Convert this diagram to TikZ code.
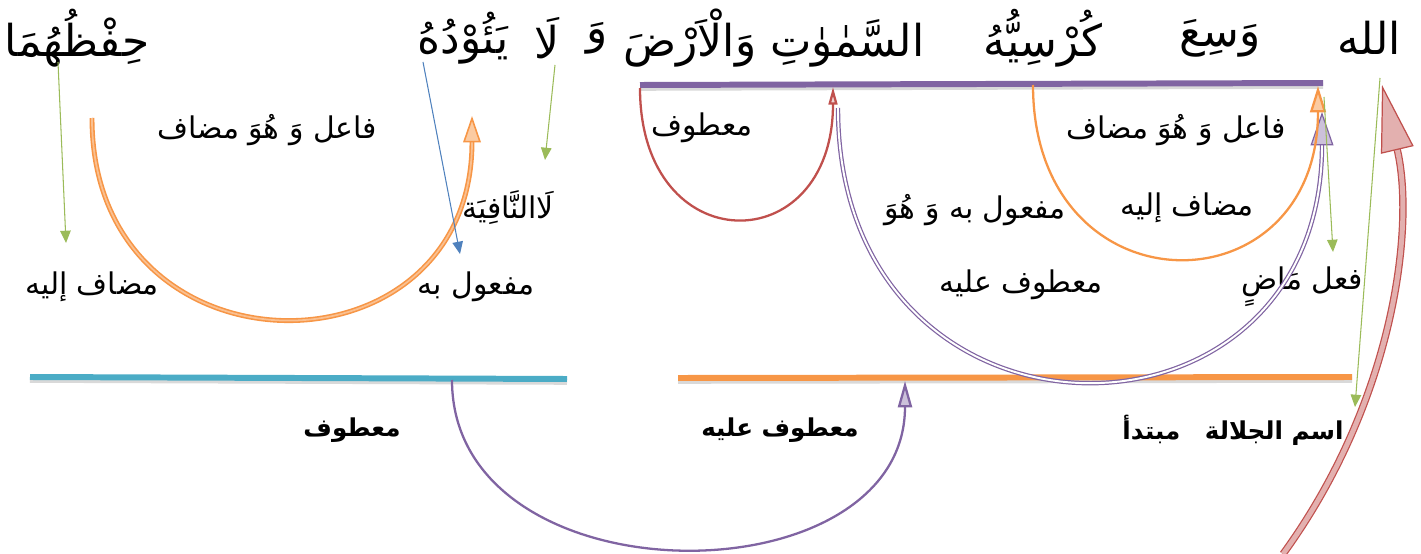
\documentclass[tikz,border=0pt]{standalone}
\usepackage{fontspec}
\newfontfamily\arabicfont[Script=Arabic]{DejaVu Sans}
\TeXXeTstate=1
\usepackage{xcolor}
\usetikzlibrary{arrows.meta}
\definecolor{barpurple}{HTML}{8064A2}
\definecolor{arcred}{HTML}{C0504D}
\definecolor{arcorange}{HTML}{F79646}
\definecolor{barteal}{HTML}{4BACC6}
\definecolor{pointgreen}{HTML}{9BBB59}
\definecolor{pointblue}{HTML}{4F81BD}

\begin{document}
\begin{tikzpicture}[
    x=0.02cm, y=-0.02cm,
    word/.style={font=\arabicfont\fontsize{25}{30}\selectfont, inner sep=0pt},
    role/.style={font=\arabicfont\fontsize{17}{20}\selectfont, inner sep=0pt},
    tag/.style={font=\arabicfont\bfseries\fontsize{14}{17}\selectfont, inner sep=0pt},
    bar/.style={line width=3.4pt, preaction={draw=black!15, line width=3.4pt, transform canvas={yshift=-1.6pt}}},
    pointer/.style={line width=0.6pt, -{Triangle[length=7pt,width=6pt]}},
    arcline/.style={line width=1.3pt}
]
\useasboundingbox (0,0) rectangle (1421,554);

% the verse
\node[word] (w-allah) at (1369,38) {\beginR الله\endR};
\node[word] (w-wasia) at (1220,38) {\beginR وَسِعَ\endR};
\node[word] (w-kursi) at (1043,38) {\beginR كُرْسِيُّهُ\endR};
\node[word] (w-samawat) at (774,38) {\beginR السَّمٰوٰتِ وَالْاَرْضَ\endR};
\node[word] (w-wa) at (597,38) {\beginR وَ\endR};
\node[word] (w-la) at (547,38) {\beginR لَا\endR};
\node[word] (w-yauduh) at (463,38) {\beginR يَئُوْدُهُ\endR};
\node[word] (w-hifz) at (77,38) {\beginR حِفْظُهُمَا\endR};

% roles
\node[role] (r-fail-l) at (267,130) {\beginR فاعل وَ هُوَ مضاف\endR};
\node[role] (r-fail-r) at (1176,130) {\beginR فاعل وَ هُوَ مضاف\endR};
\node[role] (r-maatuf-t) at (702,128) {\beginR معطوف\endR};
\node[role] (r-nafiya) at (508,208) {\beginR لَاالنَّافِيَة\endR};
\node[role] (r-mudaf-l) at (92,287) {\beginR مضاف إليه\endR};
\node[role] (r-maful) at (476,287) {\beginR مفعول به\endR};
\node[role] (r-mudaf-r) at (1187,208) {\beginR مضاف إليه\endR};
\node[role] (r-maful-h) at (975,210) {\beginR مفعول به وَ هُوَ\endR};
\node[role] (r-alayh-t) at (1021,285) {\beginR معطوف عليه\endR};
\node[role] (r-fil) at (1302,287) {\beginR فعل مَاضٍ\endR};
\node[tag] (t-maatuf) at (352,430) {\beginR معطوف\endR};
\node[tag] (t-alayh) at (780,430) {\beginR معطوف عليه\endR};
\node[tag] (t-mubtada) at (1233,430) {\beginR اسم الجلالة\quad مبتدأ\endR};

% bars
\coordinate (top-l) at (640,85);
\coordinate (top-r) at (1323,83);
\coordinate (low-r-l) at (678,378);
\coordinate (low-r-r) at (1352,377);
\coordinate (low-l-l) at (30,377);
\coordinate (low-l-r) at (567,379);
\draw[bar, barpurple] (top-l) -- (top-r);
\draw[bar, arcorange] (low-r-l) -- (low-r-r);
\draw[bar, barteal] (low-l-l) -- (low-l-r);

% arcs
\coordinate (red-a) at (640,88);
\coordinate (red-b) at (833,87);
\draw[arcline, arcred, -{Triangle[length=10pt,width=5pt,fill=arcred!25]}]
    (red-a) .. controls +(0,174) and +(0,175) .. (red-b);

\coordinate (big-a) at (838,108);
\coordinate (big-b) at (1322,112);
\draw[barpurple, line width=0.7pt, double=white, double distance=1.1pt,
      -{Triangle[length=19pt,width=13pt,fill=barpurple!40]}]
    (big-a) .. controls +(0,360) and +(0,357) .. (big-b);

\coordinate (or-a) at (1033,85);
\coordinate (or-b) at (1318,86);
\draw[arcline, arcorange, -{Triangle[length=15pt,width=9pt,fill=arcorange!50]}]
    (or-a) .. controls +(0,229) and +(0,228) .. (or-b);

\coordinate (orl-a) at (92,118);
\coordinate (orl-b) at (472,116);
\draw[arcorange, line width=0.9pt, double=arcorange!60, double distance=1pt,
      -{Triangle[length=15pt,width=10pt,fill=arcorange!50]}]
    (orl-a) .. controls +(0,266) and +(0,268) .. (orl-b);

\coordinate (low-a) at (452,380);
\coordinate (low-b) at (905,381);
\draw[arcline, barpurple, -{Triangle[length=15pt,width=8pt,fill=barpurple!40]}]
    (low-a) .. controls +(0,223) and +(0,222) .. (low-b);

\coordinate (red-foot) at (1283,554);
\coordinate (red-tip) at (1382,85);
\draw[arcred, line width=0.7pt, double=arcred!45, double distance=2.8pt,
      -{Triangle[length=38pt,width=19pt,fill=arcred!45]}]
    (red-foot) .. controls (1395,400) and (1415,225) .. (red-tip);

% pointers
\draw[pointer, pointgreen] (58,62) -- (66,243);
\draw[pointer, pointgreen] (555,65) -- (545,160);
\draw[pointer, pointblue] (423,62) -- (460,254);
\draw[pointer, pointgreen] (1324,97) -- (1333,252);
\draw[pointer, pointgreen] (1380,78) -- (1355,407);
\end{tikzpicture}
\end{document}
